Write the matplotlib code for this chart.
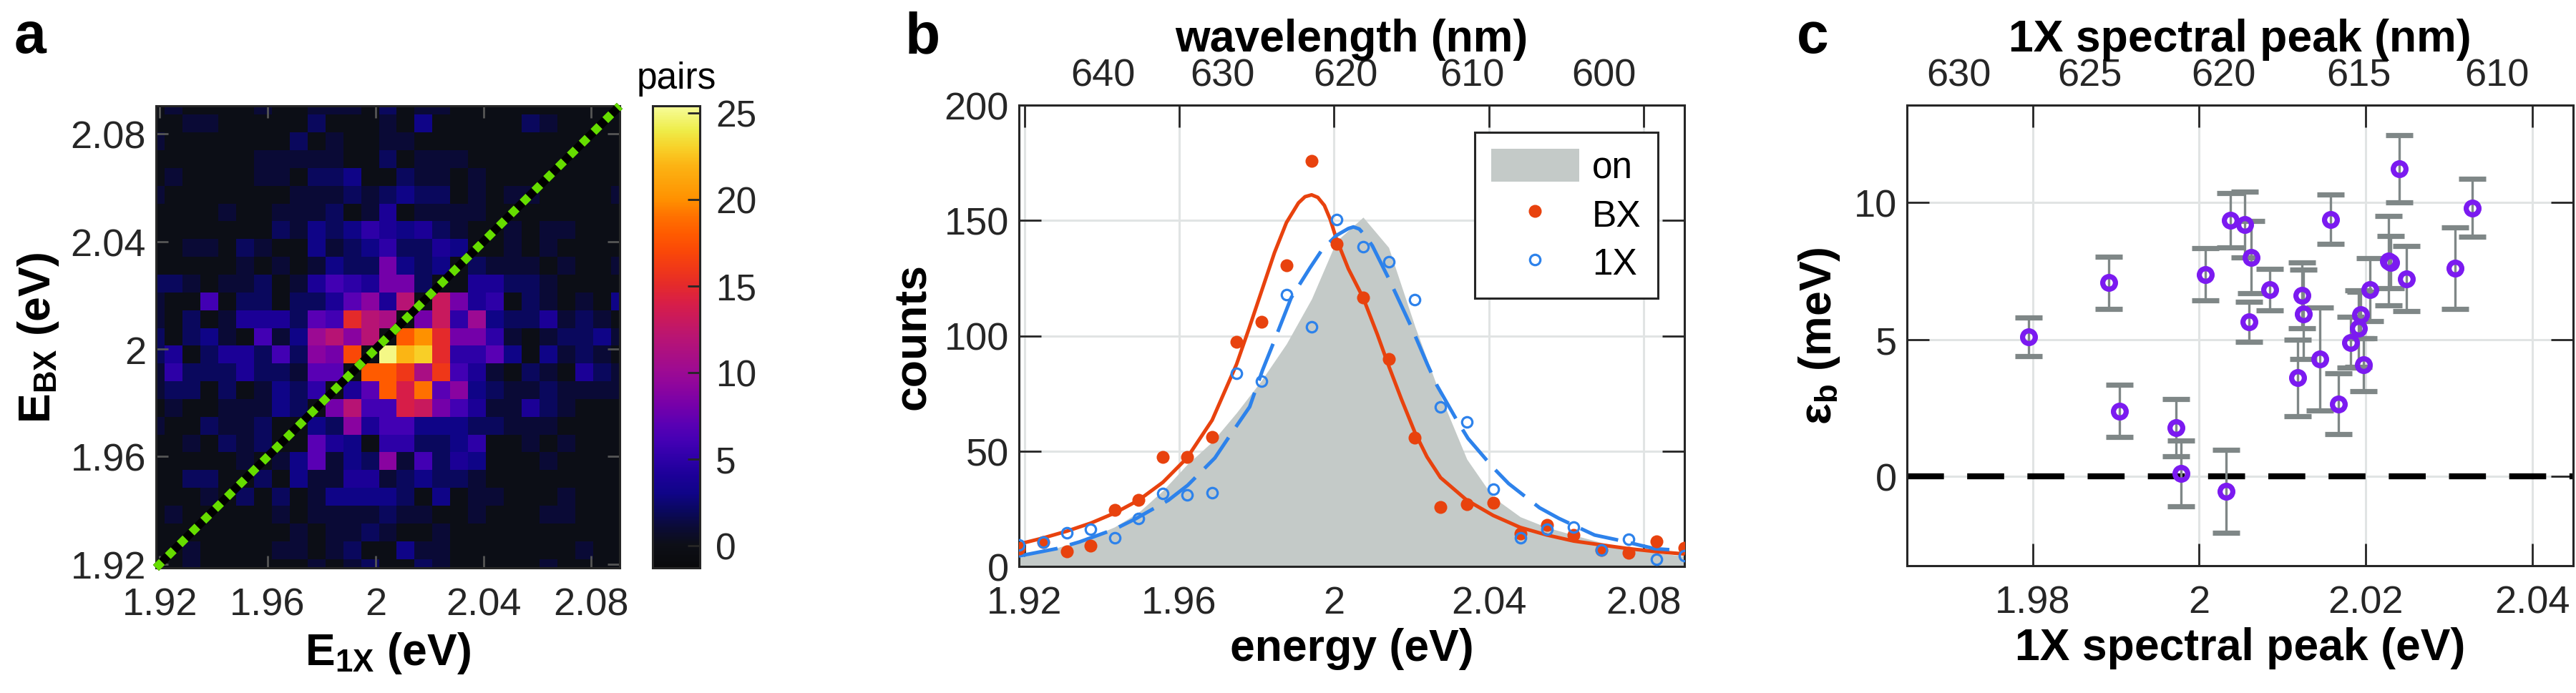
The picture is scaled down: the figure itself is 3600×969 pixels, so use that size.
import matplotlib
matplotlib.use('Agg')
import matplotlib.pyplot as plt
import numpy as np
from matplotlib.colors import LinearSegmentedColormap
from matplotlib.ticker import FuncFormatter
from matplotlib.patches import Patch
from matplotlib.lines import Line2D

plt.rcParams['font.family'] = ['Liberation Sans', 'DejaVu Sans']
plt.rcParams['mathtext.fontset'] = 'custom'
plt.rcParams['mathtext.rm'] = 'Liberation Sans'
plt.rcParams['mathtext.bf'] = 'Liberation Sans:bold'
plt.rcParams['mathtext.it'] = 'Liberation Sans:italic'

# ---------------- data ----------------
# panel a: histogram of photon pairs, rows from top (E_BX high) to bottom
bin_lo, bin_hi = 1.9186, 2.0905          # centres of first / last bin (eV)
pair_counts = [
    [0,1,0,0,0,0,1,0,0,1,1,1,0,2,0,1,1,0,0,0,0,0,0,0,0,0,0],
    [0,0,1,1,0,0,0,0,0,2,0,0,0,1,0,3,0,0,0,0,0,2,1,0,0,0,0],
    [1,0,0,0,0,0,0,0,2,0,1,0,0,1,1,0,0,0,0,0,0,0,0,0,0,0,0],
    [0,0,0,0,0,0,1,1,1,1,1,0,0,2,0,1,1,1,0,0,0,0,0,0,0,0,0],
    [0,1,0,0,0,0,1,1,0,2,2,3,0,0,2,1,1,0,1,0,0,0,0,0,0,0,0],
    [1,0,0,0,0,0,0,0,1,1,1,2,1,2,3,2,2,0,1,0,1,1,0,0,0,0,1],
    [0,0,0,0,1,0,0,1,1,1,2,0,1,4,0,1,1,1,1,0,0,0,0,0,0,0,0],
    [0,0,0,0,0,0,0,2,1,3,2,3,5,4,3,4,2,1,0,0,1,0,1,1,0,0,0],
    [0,0,1,1,0,2,1,0,0,3,1,2,3,5,2,2,4,3,0,0,1,0,1,0,0,0,0],
    [0,0,0,0,0,1,0,1,0,1,3,2,2,8,3,2,3,0,2,1,1,1,0,1,0,0,1],
    [2,2,1,0,1,1,2,0,1,4,6,5,4,8,8,2,0,0,4,4,2,2,1,0,0,0,0],
    [1,0,0,6,0,2,2,0,2,2,4,7,9,4,12,0,13,8,4,5,0,2,1,0,1,0,3],
    [1,0,2,0,1,4,4,4,2,7,6,15,12,11,0,8,13,5,10,3,2,2,4,1,2,1,0],
    [2,0,2,3,1,0,6,1,3,10,12,9,12,0,18,20,15,8,8,5,1,0,1,2,2,3,1],
    [2,4,0,2,4,4,2,6,2,9,8,17,0,25,22,23,15,5,5,7,3,0,3,1,2,1,0],
    [1,5,2,2,2,4,2,2,1,7,7,0,18,18,16,11,16,6,4,1,0,2,1,0,4,2,1],
    [1,2,2,0,2,0,1,3,2,5,0,4,7,18,14,19,7,9,3,2,1,1,2,1,1,1,1],
    [0,1,0,0,1,1,1,3,2,0,8,12,6,6,14,13,8,6,4,1,1,4,2,1,0,0,0],
    [1,0,0,2,1,1,2,0,0,3,2,9,4,6,6,3,3,3,2,2,1,1,1,0,0,0,0],
    [0,0,1,0,2,1,2,0,0,7,4,3,0,5,5,2,2,3,5,0,0,1,0,1,0,0,0],
    [0,0,0,0,0,1,0,1,3,7,1,3,2,9,1,6,2,4,3,0,0,0,1,0,0,0,0],
    [0,0,2,2,0,0,2,0,3,1,1,4,4,1,2,3,2,2,1,0,0,0,0,0,0,0,0],
    [0,0,0,1,0,2,0,2,0,1,3,3,3,3,2,0,3,0,1,1,0,0,0,1,0,0,0],
    [0,1,0,0,0,0,0,1,0,1,1,1,1,2,1,1,0,0,1,0,0,0,1,1,0,0,0],
    [0,0,0,0,0,0,0,0,1,0,1,1,2,1,0,0,1,0,0,0,0,0,0,0,0,0,0],
    [0,0,1,0,0,0,0,1,1,0,1,2,0,0,3,1,1,0,0,0,0,0,0,0,1,0,0],
    [0,0,1,0,0,0,0,0,0,1,0,1,2,0,0,2,1,0,0,0,0,0,1,0,0,0,0],
]

# panel b: spectra
energy = [1.9186, 1.9248, 1.9310, 1.9371, 1.9433, 1.9495, 1.9558, 1.9620, 1.9685,
          1.9748, 1.9812, 1.9877, 1.9942, 2.0006, 2.0075, 2.0141, 2.0209, 2.0275,
          2.0343, 2.0411, 2.0481, 2.0550, 2.0619, 2.0691, 2.0761, 2.0833, 2.0905]
on_counts = [3.8, 6.4, 9.3, 12.7, 17.1, 23.4, 32.9, 44.1, 54.0, 66.6, 80.5, 96.5,
             116.0, 141.0, 151.4, 138.3, 104.0, 74.0, 46.5, 30.0, 21.5, 16.9, 13.6,
             10.3, 7.7, 5.8, 4.5]
bx_counts = [7.7, 10.6, 6.4, 9.0, 24.5, 28.9, 47.3, 47.3, 56.2, 97.4, 106.2, 130.4,
             175.7, 139.9, 116.6, 89.9, 55.9, 25.8, 27.1, 27.6, 14.3, 17.9, 13.6,
             7.1, 5.8, 11.0, 8.0]
x1_counts = [9.3, 10.6, 14.7, 16.2, 12.3, 20.8, 31.5, 31.0, 31.9, 83.6, 80.4, 117.7,
             103.9, 150.4, 138.6, 132.1, 115.7, 69.0, 62.7, 33.6, 12.3, 16.2, 17.1,
             7.1, 11.9, 3.1, 4.5]

# fitted curves
bx_fit_e = [1.9186, 1.9248, 1.9310, 1.9372, 1.9434, 1.9495, 1.9558, 1.9620, 1.9685,
            1.9748, 1.9780, 1.9812, 1.9846, 1.9877, 1.9908, 1.9925, 1.9942, 1.9958,
            1.9975, 1.9990, 2.0006, 2.0037, 2.0075, 2.0112, 2.0141, 2.0174, 2.0209,
            2.0240, 2.0275, 2.0343, 2.0411, 2.0481, 2.0550, 2.0619, 2.0691, 2.0761,
            2.0833, 2.0905]
bx_fit_c = [9.7, 12.3, 15.3, 18.8, 23.2, 28.7, 36.5, 47.0, 63.4, 87.6, 103.0, 119.0,
            136.0, 149.1, 157.6, 160.3, 161.1, 160.0, 156.5, 150.5, 142.0, 129.0,
            116.5, 100.5, 87.0, 72.5, 58.0, 47.5, 38.5, 28.7, 22.1, 16.9, 13.6, 11.0,
            9.3, 7.7, 6.4, 5.4]
x1_fit_e = [1.9186, 1.9283, 1.9342, 1.9434, 1.9489, 1.9572, 1.9622, 1.9692, 1.9726,
            1.9782, 1.9815, 1.9846, 1.9889, 1.9938, 1.9969, 2.0006, 2.0037, 2.0050,
            2.0065, 2.0080, 2.0099, 2.0143, 2.0201, 2.0241, 2.0266, 2.0315, 2.0346,
            2.0411, 2.0451, 2.0531, 2.0581, 2.0673, 2.0729, 2.0828, 2.0905]
x1_fit_c = [4.5, 7.7, 10.6, 16.2, 20.8, 28.7, 35.2, 47.0, 55.5, 69.2, 85.0, 98.0,
            116.4, 129.5, 137.3, 143.5, 146.5, 147.2, 146.3, 143.5, 139.0, 124.2,
            103.3, 87.6, 78.4, 64.0, 55.5, 42.8, 35.9, 25.4, 20.8, 13.6, 11.6, 7.7, 6.8]

# panel c: biexciton binding energy vs 1X peak
peak_e = [1.9795, 1.9891, 1.9904, 1.9972, 1.9978, 2.0007, 2.0032, 2.0037, 2.0055,
          2.0060, 2.0062, 2.0085, 2.0118, 2.0123, 2.0125, 2.0145, 2.0158, 2.0167,
          2.0182, 2.0191, 2.0194, 2.0197, 2.0205, 2.0227, 2.0230, 2.0240, 2.0249,
          2.0307, 2.0328]
eps_b = [5.10, 7.07, 2.39, 1.78, 0.11, 7.37, -0.54, 9.35, 9.19, 5.63, 8.00, 6.81,
         3.60, 6.61, 5.92, 4.28, 9.38, 2.65, 4.89, 5.40, 5.89, 4.08, 6.81, 7.87,
         7.82, 11.23, 7.22, 7.60, 9.80]
eps_err = [0.71, 0.95, 0.95, 1.05, 1.20, 0.95, 1.52, 0.99, 1.19, 0.73, 1.32, 0.76,
           1.40, 1.21, 1.63, 1.88, 0.90, 1.12, 0.93, 1.40, 0.86, 0.97, 1.15, 1.63,
           0.96, 1.22, 1.19, 1.48, 1.05]

HC = 1241.8   # eV nm, as used for the top axes

# ---------------- style ----------------
cmap_vals = [-1.3, 0, 1, 2, 3, 4, 5, 6, 7, 8, 9, 10, 12, 14, 15, 16, 17, 18, 19, 20,
             22, 23, 24, 25.4]
cmap_cols = ['#0a0a0c', '#0d0f17', '#0b0b36', '#0a0860', '#100488', '#1c0098',
             '#2e00a8', '#4400b4', '#5a00b4', '#7400aa', '#8a04a0', '#9c0a94',
             '#b81474', '#d81e48', '#e42a2c', '#f03818', '#fa4808', '#ff5a00',
             '#ff7000', '#ff9000', '#fcb414', '#f8d028', '#eeec48', '#f6fc98']
vmin, vmax = cmap_vals[0], cmap_vals[-1]
pair_cmap = LinearSegmentedColormap.from_list(
    'pairs', [((v - vmin) / (vmax - vmin), c) for v, c in zip(cmap_vals, cmap_cols)])

RED = '#e8420e'
BLUE = '#2d82eb'
GREY_FILL = '#c4cac8'
PURPLE = '#7b1af0'
EBAR = '#7f8787'
DARK = '#262626'
GRID = '#e1e4e4'
TICK_FS = 19.5
LABEL_FS = 22.5

W, H = 3600, 970
fig = plt.figure(figsize=(18, 4.85), dpi=200)


def box(x0, x1, y0, y1):
    return [x0 / W, 1 - y1 / H, (x1 - x0) / W, (y1 - y0) / H]


fmt = FuncFormatter(lambda v, p: '%g' % round(v, 4))


def style(ax, grid=True):
    ax.tick_params(direction='in', length=11, width=1.0, colors=DARK,
                   labelsize=TICK_FS, top=True, right=True, pad=9.5)
    ax.tick_params(axis='y', pad=5)
    for s in ax.spines.values():
        s.set_linewidth(1.1)
        s.set_color(DARK)
    ax.xaxis.set_major_formatter(fmt)
    ax.yaxis.set_major_formatter(fmt)
    if grid:
        ax.grid(True, color=GRID, lw=1.1)
        ax.set_axisbelow(True)


def to_nm(x):
    x = np.asarray(x, dtype=float)
    with np.errstate(divide='ignore', invalid='ignore'):
        return HC / x


# ---------------- panel a ----------------
ax_a = fig.add_axes(box(218, 866, 149, 795))
d = (bin_hi - bin_lo) / (len(pair_counts) - 1)
im = ax_a.imshow(np.array(pair_counts, dtype=float), cmap=pair_cmap, vmin=vmin, vmax=vmax,
                 origin='upper', aspect='auto', interpolation='nearest',
                 extent=[bin_lo - d / 2, bin_hi + d / 2, bin_lo - d / 2, bin_hi + d / 2])
ax_a.plot([bin_lo, bin_hi], [bin_lo, bin_hi], color='black', lw=4.2,
          solid_capstyle='butt', clip_on=False, zorder=3)
ax_a.plot([bin_lo, bin_hi], [bin_lo, bin_hi], color='#66dd00', lw=4.2, dashes=(1, 1),
          dash_capstyle='butt', clip_on=False, zorder=4)
ax_a.set_xlim(bin_lo, bin_hi)
ax_a.set_ylim(bin_lo, bin_hi)
ticks_a = [1.92, 1.96, 2.0, 2.04, 2.08]
ax_a.set_xticks(ticks_a)
ax_a.set_yticks(ticks_a)
style(ax_a, grid=False)
ax_a.tick_params(length=6, color='#555555')
ax_a.set_xlabel(r'$\mathbf{E_{1X}}$ (eV)', fontsize=LABEL_FS, fontweight='bold', labelpad=4)
ax_a.set_ylabel(r'$\mathbf{E_{BX}}$ (eV)', fontsize=LABEL_FS, fontweight='bold', labelpad=5)

cax = fig.add_axes(box(912, 978, 149, 795))
cb = fig.colorbar(im, cax=cax)
cb.set_ticks([0, 5, 10, 15, 20, 25])
cax.tick_params(direction='in', length=6, width=1.0, labelsize=18.5, pad=8, colors=DARK)
cb.outline.set_linewidth(1.1)
cb.outline.set_edgecolor(DARK)
cax.set_title('pairs', fontsize=18.5, pad=9)

# ---------------- panel b ----------------
ax_b = fig.add_axes(box(1424, 2354, 148, 793))
ax_b.fill_between(energy, on_counts, color=GREY_FILL, lw=0, zorder=1)
ax_b.plot(bx_fit_e, bx_fit_c, color=RED, lw=1.8, zorder=3)
ax_b.plot(x1_fit_e, x1_fit_c, color=BLUE, lw=1.8, dashes=(11, 3.6), zorder=3)
ax_b.plot(energy, bx_counts, 'o', color=RED, ms=6.5, mec='none', zorder=4)
ax_b.plot(energy, x1_counts, 'o', mfc='none', mec=BLUE, ms=5.2, mew=1.15, zorder=5)
ax_b.set_xlim(1.9186, 2.0905)
ax_b.set_ylim(0, 200)
ax_b.set_xticks([1.92, 1.96, 2.0, 2.04, 2.08])
ax_b.set_yticks([0, 50, 100, 150, 200])
style(ax_b)
ax_b.set_xlabel('energy (eV)', fontsize=LABEL_FS, fontweight='bold', labelpad=3)
ax_b.set_ylabel('counts', fontsize=LABEL_FS, fontweight='bold', labelpad=5)
top_b = ax_b.secondary_xaxis('top', functions=(to_nm, to_nm))
top_b.set_xticks([640, 630, 620, 610, 600])
top_b.tick_params(length=0, labelsize=TICK_FS, pad=6, colors=DARK)
top_b.spines['top'].set_visible(False)
top_b.set_xlabel('wavelength (nm)', fontsize=LABEL_FS, fontweight='bold', labelpad=3.5)

handles = [Patch(facecolor=GREY_FILL, edgecolor='none', label='on'),
           Line2D([], [], ls='none', marker='o', color=RED, mec='none', ms=6.5, label='BX'),
           Line2D([], [], ls='none', marker='o', mfc='none', mec=BLUE, ms=5.2, mew=1.15,
                  label='1X')]
leg = ax_b.legend(handles=handles, loc='upper right', bbox_to_anchor=(0.960, 0.941),
                  borderaxespad=0, fancybox=False, edgecolor=DARK, framealpha=1,
                  fontsize=18.5, handlelength=2.4, handleheight=1.0, handletextpad=0.35,
                  labelspacing=0.3, borderpad=0.45, numpoints=1)
leg.get_frame().set_linewidth(1.1)

# ---------------- panel c ----------------
ax_c = fig.add_axes(box(2665, 3596, 148, 792))
ax_c.axhline(0, color='black', lw=3, dashes=(6.2, 3.9), zorder=2)
ax_c.errorbar(peak_e, eps_b, yerr=eps_err, fmt='o', ms=6.4, mfc='none', mec=PURPLE,
              mew=2.6, ecolor=EBAR, elinewidth=1.2, capsize=7, capthick=1.2, zorder=3)
ax_c.set_xlim(1.9649, 2.0449)
ax_c.set_ylim(-3.26, 13.55)
ax_c.set_xticks([1.98, 2.0, 2.02, 2.04])
ax_c.set_yticks([0, 5, 10])
style(ax_c)
ax_c.set_xlabel('1X spectral peak (eV)', fontsize=LABEL_FS, fontweight='bold', labelpad=3)
ax_c.set_ylabel(r'$\mathbf{\varepsilon_b}$ (meV)', fontsize=LABEL_FS, fontweight='bold',
                labelpad=6)
top_c = ax_c.secondary_xaxis('top', functions=(to_nm, to_nm))
top_c.set_xticks([630, 625, 620, 615, 610])
top_c.tick_params(length=0, labelsize=TICK_FS, pad=6, colors=DARK)
top_c.spines['top'].set_visible(False)
top_c.set_xlabel('1X spectral peak (nm)', fontsize=LABEL_FS, fontweight='bold',
                 labelpad=3.5)

# panel letters
for x, letter in [(20, 'a'), (1265, 'b'), (2511, 'c')]:
    fig.text(x / W, 1 - 74 / H, letter, fontsize=29, fontweight='bold', va='baseline')

fig.savefig('out.png', dpi=200)
